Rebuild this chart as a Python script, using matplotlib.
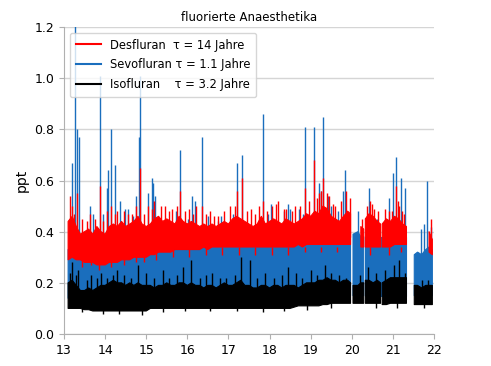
import numpy as np
import matplotlib
matplotlib.use("Agg")
import matplotlib.pyplot as plt
from matplotlib.lines import Line2D

nan = np.nan

# sampling times (years since 2000)
years = [
    13.1, 13.2, 13.3, 13.4, 13.5, 13.6, 13.7, 13.8, 13.9, 14.0,
    14.1, 14.2, 14.3, 14.4, 14.5, 14.6, 14.7, 14.8, 14.9, 15.0,
    15.1, 15.2, 15.3, 15.4, 15.5, 15.6, 15.7, 15.8, 15.9, 16.0,
    16.1, 16.2, 16.3, 16.4, 16.5, 16.6, 16.7, 16.8, 16.9, 17.0,
    17.1, 17.2, 17.3, 17.4, 17.5, 17.6, 17.7, 17.8, 17.9, 18.0,
    18.1, 18.2, 18.3, 18.4, 18.5, 18.6, 18.7, 18.8, 18.9, 19.0,
    19.1, 19.2, 19.3, 19.4, 19.5, 19.6, 19.7, 19.8, 19.9,
    19.97, 20.00, 20.03, 20.15, 20.22, 20.29, 20.31, 20.33, 20.42, 20.52,
    20.62, 20.70, 20.72, 20.74, 20.84, 20.94, 21.04, 21.14, 21.24, 21.33,
    21.34, 21.52, 21.60, 21.70, 21.80, 21.88, 21.96,
]

# Desfluran (red) band: upper / lower envelope
des_hi = [
    0.44, 0.46, 0.42, 0.39, 0.40, 0.41, 0.39, 0.42, 0.40, 0.39,
    0.42, 0.43, 0.42, 0.44, 0.42, 0.43, 0.44, 0.46, 0.43, 0.42,
    0.43, 0.45, 0.46, 0.44, 0.45, 0.44, 0.43, 0.46, 0.44, 0.43,
    0.44, 0.43, 0.42, 0.43, 0.42, 0.43, 0.42, 0.43, 0.44, 0.43,
    0.45, 0.46, 0.45, 0.44, 0.43, 0.42, 0.43, 0.46, 0.43, 0.44,
    0.45, 0.44, 0.43, 0.45, 0.44, 0.43, 0.44, 0.45, 0.47, 0.46,
    0.48, 0.47, 0.50, 0.49, 0.46, 0.45, 0.44, 0.46, 0.48,
    0.47, nan, nan, nan, 0.42, 0.41, nan, 0.45, 0.47, 0.46,
    0.44, 0.43, nan, 0.43, 0.45, 0.44, 0.46, 0.45, 0.43, 0.42,
    nan, nan, nan, nan, nan, 0.40, 0.37,
]
des_lo = [
    0.29, 0.30, 0.29, 0.29, 0.28, 0.28, 0.28, 0.27, 0.27, 0.27,
    0.28, 0.28, 0.28, 0.29, 0.29, 0.29, 0.30, 0.30, 0.30, 0.30,
    0.31, 0.31, 0.32, 0.32, 0.32, 0.32, 0.33, 0.33, 0.33, 0.33,
    0.33, 0.33, 0.33, 0.34, 0.33, 0.34, 0.34, 0.34, 0.34, 0.34,
    0.34, 0.34, 0.34, 0.34, 0.34, 0.34, 0.34, 0.34, 0.34, 0.34,
    0.34, 0.34, 0.34, 0.34, 0.34, 0.34, 0.35, 0.34, 0.35, 0.35,
    0.35, 0.35, 0.35, 0.35, 0.35, 0.35, 0.35, 0.35, 0.35,
    0.35, nan, nan, nan, 0.34, 0.34, nan, 0.34, 0.34, 0.34,
    0.34, 0.34, nan, 0.34, 0.34, 0.34, 0.35, 0.35, 0.35, 0.35,
    nan, nan, nan, nan, nan, 0.32, 0.31,
]

# Sevofluran (blue) band
sevo_hi = [
    0.33, 0.34, 0.33, 0.32, 0.32, 0.32, 0.32, 0.31, 0.31, 0.31,
    0.32, 0.32, 0.32, 0.33, 0.33, 0.33, 0.34, 0.34, 0.34, 0.34,
    0.35, 0.36, 0.36, 0.36, 0.36, 0.36, 0.36, 0.36, 0.36, 0.36,
    0.37, 0.37, 0.37, 0.37, 0.37, 0.37, 0.37, 0.37, 0.37, 0.37,
    0.37, 0.37, 0.37, 0.37, 0.37, 0.37, 0.37, 0.37, 0.37, 0.37,
    0.38, 0.38, 0.38, 0.38, 0.38, 0.38, 0.38, 0.38, 0.38, 0.38,
    0.38, 0.38, 0.38, 0.38, 0.38, 0.38, 0.38, 0.38, 0.38,
    0.38, nan, 0.39, 0.40, 0.38, 0.38, nan, 0.38, 0.38, 0.38,
    0.38, 0.38, nan, 0.38, 0.38, 0.38, 0.38, 0.38, 0.38, 0.38,
    nan, 0.31, 0.32, 0.31, 0.33, 0.34, 0.33,
]
sevo_lo = [
    0.14, 0.14, 0.14, 0.14, 0.14, 0.14, 0.14, 0.14, 0.14, 0.14,
    0.14, 0.14, 0.14, 0.14, 0.14, 0.14, 0.14, 0.14, 0.14, 0.14,
    0.14, 0.14, 0.14, 0.14, 0.14, 0.14, 0.14, 0.14, 0.14, 0.14,
    0.14, 0.14, 0.14, 0.14, 0.14, 0.14, 0.14, 0.14, 0.14, 0.14,
    0.14, 0.14, 0.14, 0.14, 0.14, 0.14, 0.14, 0.14, 0.14, 0.14,
    0.15, 0.15, 0.15, 0.15, 0.15, 0.15, 0.15, 0.15, 0.15, 0.15,
    0.15, 0.15, 0.15, 0.15, 0.15, 0.15, 0.15, 0.15, 0.15,
    0.15, nan, 0.15, 0.15, 0.15, 0.15, nan, 0.15, 0.15, 0.15,
    0.15, 0.15, nan, 0.15, 0.15, 0.15, 0.15, 0.15, 0.15, 0.15,
    nan, 0.15, 0.15, 0.15, 0.15, 0.15, 0.15,
]

# Isofluran (black) band
iso_hi = [
    0.20, 0.21, 0.19, 0.17, 0.17, 0.18, 0.17, 0.18, 0.19, 0.19,
    0.20, 0.21, 0.20, 0.20, 0.19, 0.20, 0.19, 0.20, 0.19, 0.19,
    0.19, 0.18, 0.19, 0.19, 0.20, 0.19, 0.19, 0.20, 0.20, 0.19,
    0.20, 0.19, 0.19, 0.18, 0.19, 0.19, 0.18, 0.19, 0.20, 0.19,
    0.19, 0.20, 0.21, 0.19, 0.19, 0.18, 0.18, 0.19, 0.19, 0.18,
    0.19, 0.19, 0.18, 0.19, 0.19, 0.19, 0.18, 0.19, 0.20, 0.20,
    0.20, 0.21, 0.21, 0.22, 0.21, 0.21, 0.20, 0.21, 0.21,
    0.20, nan, 0.19, 0.19, 0.20, 0.20, nan, 0.21, 0.21, 0.20,
    0.21, 0.20, nan, 0.20, 0.21, 0.22, 0.22, 0.22, 0.22, 0.22,
    nan, 0.19, 0.19, 0.18, 0.19, 0.19, 0.19,
]
iso_lo = [
    0.10, 0.10, 0.10, 0.10, 0.095, 0.095, 0.09, 0.09, 0.09, 0.09,
    0.09, 0.09, 0.09, 0.09, 0.09, 0.09, 0.09, 0.09, 0.09, 0.09,
    0.10, 0.10, 0.10, 0.10, 0.10, 0.10, 0.10, 0.10, 0.10, 0.10,
    0.10, 0.10, 0.10, 0.10, 0.10, 0.10, 0.10, 0.10, 0.10, 0.10,
    0.10, 0.10, 0.10, 0.10, 0.10, 0.10, 0.10, 0.10, 0.10, 0.10,
    0.10, 0.10, 0.10, 0.10, 0.10, 0.105, 0.11, 0.11, 0.11, 0.11,
    0.11, 0.11, 0.115, 0.115, 0.12, 0.12, 0.12, 0.12, 0.12,
    0.12, nan, 0.12, 0.12, 0.12, 0.12, nan, 0.12, 0.12, 0.12,
    0.12, 0.12, nan, 0.115, 0.115, 0.12, 0.12, 0.12, 0.12, 0.12,
    nan, 0.115, 0.115, 0.115, 0.115, 0.115, 0.115,
]

# individual peaks (upward)
sevo_peak_t = [13.19, 13.27, 13.32, 13.37, 13.63, 13.71, 13.87, 13.95, 14.04, 14.08,
               14.14, 14.24, 14.36, 14.48, 14.56, 14.68, 14.76, 14.83, 14.85, 15.04,
               15.13, 15.16, 15.21, 15.73, 15.82, 16.02, 16.12, 16.18, 16.35, 16.50,
               16.75, 16.83, 17.11, 17.22, 17.34, 17.84, 17.96, 18.04, 18.36, 18.44,
               18.49, 18.71, 18.81, 18.85, 19.09, 19.21, 19.25, 19.31, 19.42, 19.50,
               19.66, 19.78, 19.84, 20.16, 20.43, 20.62, 20.91, 21.01, 21.07, 21.20,
               21.30, 21.68, 21.76, 21.84, 21.92]
sevo_peak_v = [0.67, 1.25, 0.80, 0.77, 0.50, 0.47, 1.01, 0.47, 0.57, 0.64,
               0.80, 0.66, 0.52, 0.49, 0.49, 0.46, 0.54, 0.77, 1.01, 0.55,
               0.61, 0.59, 0.54, 0.48, 0.72, 0.45, 0.54, 0.52, 0.77, 0.46,
               0.44, 0.46, 0.47, 0.67, 0.70, 0.86, 0.47, 0.51, 0.48, 0.51,
               0.49, 0.49, 0.47, 0.81, 0.81, 0.59, 0.56, 0.85, 0.54, 0.50,
               0.48, 0.56, 0.64, 0.48, 0.57, 0.45, 0.53, 0.63, 0.69, 0.61,
               0.57, 0.41, 0.43, 0.60, 0.42]

des_peak_t = [13.15, 13.19, 13.25, 13.32, 13.45, 13.55, 13.63, 13.75, 13.87, 13.95,
              14.05, 14.14, 14.25, 14.30, 14.45, 14.55, 14.65, 14.76, 14.84, 14.95,
              15.04, 15.15, 15.20, 15.35, 15.45, 15.55, 15.62, 15.75, 15.82, 15.95,
              16.05, 16.15, 16.20, 16.35, 16.45, 16.55, 16.65, 16.75, 16.90, 17.05,
              17.15, 17.22, 17.34, 17.45, 17.55, 17.65, 17.75, 17.84, 17.95, 18.05,
              18.15, 18.20, 18.35, 18.40, 18.55, 18.62, 18.75, 18.85, 18.95, 19.09,
              19.15, 19.20, 19.25, 19.31, 19.40, 19.45, 19.55, 19.60, 19.75, 19.85,
              19.95, 20.25, 20.38, 20.45, 20.48, 20.55, 20.65, 20.80, 20.90, 20.98,
              21.08, 21.12, 21.15, 21.22, 21.28, 21.92]
des_peak_v = [0.54, 0.50, 0.47, 0.55, 0.45, 0.44, 0.47, 0.45, 0.58, 0.44,
              0.48, 0.50, 0.47, 0.48, 0.48, 0.47, 0.47, 0.50, 0.65, 0.47,
              0.50, 0.49, 0.52, 0.50, 0.50, 0.48, 0.49, 0.50, 0.56, 0.48,
              0.49, 0.47, 0.50, 0.50, 0.47, 0.48, 0.46, 0.46, 0.48, 0.50,
              0.50, 0.56, 0.61, 0.48, 0.49, 0.47, 0.50, 0.52, 0.48, 0.50,
              0.51, 0.52, 0.49, 0.49, 0.48, 0.50, 0.50, 0.57, 0.52, 0.68,
              0.53, 0.55, 0.56, 0.61, 0.55, 0.54, 0.51, 0.50, 0.52, 0.56,
              0.53, 0.45, 0.50, 0.52, 0.51, 0.49, 0.48, 0.49, 0.48, 0.48,
              0.58, 0.52, 0.50, 0.48, 0.47, 0.45]

iso_peak_t = [13.15, 13.20, 13.28, 13.35, 13.55, 13.65, 13.80, 13.90, 14.05, 14.18,
              14.30, 14.45, 14.62, 14.80, 15.00, 15.20, 15.40, 15.55, 15.75, 15.90,
              16.10, 16.30, 16.45, 16.60, 16.80, 16.95, 17.15, 17.31, 17.52, 17.70,
              17.90, 18.10, 18.30, 18.44, 18.64, 18.80, 19.00, 19.15, 19.34, 19.50,
              19.70, 19.86, 20.20, 20.40, 20.60, 20.80, 21.02, 21.16, 21.30, 21.70,
              21.85]
iso_peak_v = [0.24, 0.28, 0.23, 0.25, 0.21, 0.23, 0.22, 0.24, 0.22, 0.23,
              0.25, 0.23, 0.22, 0.27, 0.24, 0.22, 0.25, 0.22, 0.23, 0.26,
              0.29, 0.22, 0.23, 0.24, 0.22, 0.22, 0.23, 0.30, 0.29, 0.22,
              0.24, 0.22, 0.23, 0.26, 0.24, 0.22, 0.25, 0.23, 0.27, 0.24,
              0.23, 0.22, 0.23, 0.26, 0.24, 0.25, 0.27, 0.29, 0.24, 0.21,
              0.21]

# individual downward excursions of the band bottoms
des_dip_t = [13.45, 13.65, 13.85, 14.15, 14.45, 14.75, 14.95, 15.25, 15.65, 16.05,
             16.45, 16.85, 17.25, 17.65, 18.05, 18.45, 18.85, 19.25, 19.65, 20.45,
             20.90, 21.20]
des_dip_v = [0.26, 0.27, 0.25, 0.26, 0.27, 0.28, 0.28, 0.29, 0.30, 0.30,
             0.31, 0.31, 0.31, 0.31, 0.31, 0.31, 0.32, 0.32, 0.32, 0.31,
             0.31, 0.32]
iso_dip_t = [13.45, 13.95, 14.35, 14.90, 15.40, 15.95, 16.55, 17.20, 17.85, 18.35,
             18.90, 19.50, 20.60, 21.10, 21.75]
iso_dip_v = [0.085, 0.08, 0.08, 0.075, 0.085, 0.09, 0.09, 0.09, 0.085, 0.09,
             0.095, 0.10, 0.10, 0.10, 0.10]

labels = ["Desfluran  τ = 14 Jahre", "Sevofluran τ = 1.1 Jahre", "Isofluran    τ = 3.2 Jahre"]
title = "fluorierte Anaesthetika"
xticks = [13, 14, 15, 16, 17, 18, 19, 20, 21, 22]
yticks = [0.0, 0.2, 0.4, 0.6, 0.8, 1.0, 1.2]

RED = "#ff0000"
BLUE = "#1a6ebd"
BLACK = "#000000"

for arr in (des_hi, des_lo, sevo_hi, sevo_lo, iso_hi, iso_lo):
    assert len(arr) == len(years)

t = np.array(years)
plt.rcParams["font.family"] = ["DejaVu Sans"]
fig = plt.figure(figsize=(4.91, 3.66), dpi=100)
ax = fig.add_axes([64 / 491, 32 / 366, 370 / 491, 307 / 366])

LW = 1.0
# blue first, then red, then black on top
ax.fill_between(t, sevo_lo, sevo_hi, color=BLUE, lw=0.8, zorder=2)
ax.vlines(sevo_peak_t, 0.30, sevo_peak_v, color=BLUE, lw=LW, zorder=2)
ax.fill_between(t, des_lo, des_hi, color=RED, lw=0.8, zorder=3)
ax.vlines(des_peak_t, 0.38, des_peak_v, color=RED, lw=LW, zorder=3)
ax.vlines(des_dip_t, 0.34, des_dip_v, color=RED, lw=LW, zorder=3)
ax.fill_between(t, iso_lo, iso_hi, color=BLACK, lw=0.8, zorder=4)
ax.vlines(iso_peak_t, 0.15, iso_peak_v, color=BLACK, lw=LW, zorder=4)
ax.vlines(iso_dip_t, 0.13, iso_dip_v, color=BLACK, lw=LW, zorder=4)

ax.set_xlim(13, 22)
ax.set_ylim(0, 1.2)
ax.set_xticks(xticks)
ax.set_yticks(yticks)
ax.set_yticklabels([f"{v:.1f}" for v in yticks])
ax.tick_params(labelsize=9, color="#b0b0b0", length=3.5)
ax.yaxis.grid(True, color="#d5d5d5", lw=1)
ax.set_axisbelow(True)
for s in ("top", "right"):
    ax.spines[s].set_visible(False)
for s in ("left", "bottom"):
    ax.spines[s].set_color("#b0b0b0")
ax.set_ylabel("ppt", fontsize=10)
ax.set_title(title, fontsize=8.5, pad=4)

handles = [Line2D([], [], color=RED, lw=1.5),
           Line2D([], [], color=BLUE, lw=1.5),
           Line2D([], [], color=BLACK, lw=1.5)]
leg = ax.legend(handles, labels, loc="upper left", fontsize=8.3, framealpha=0.8,
                handlelength=2.2, labelspacing=0.6, borderpad=0.5)
leg.set_zorder(10)

fig.savefig("out.png", dpi=100)
